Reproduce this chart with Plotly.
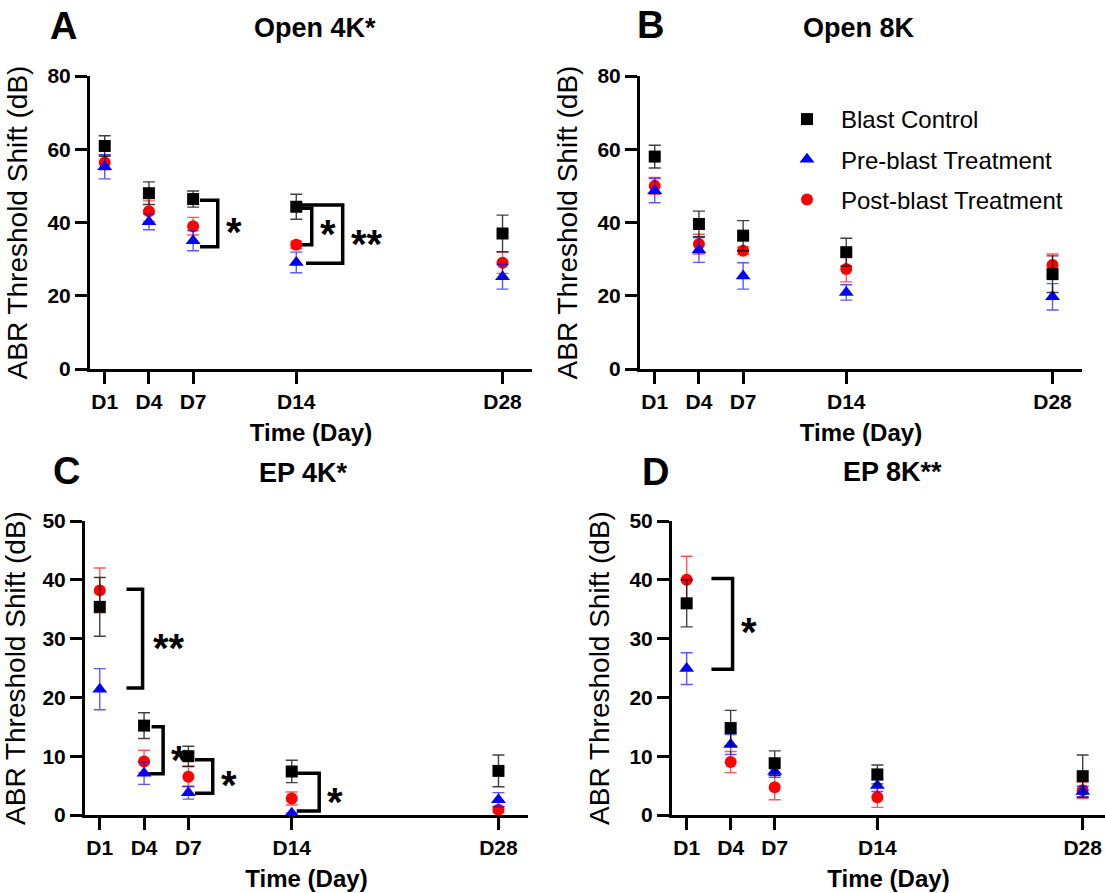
import plotly.graph_objects as go

# ---- data -----------------------------------------------------------------
days = [1, 4, 7, 14, 28]
day_labels = ["D1", "D4", "D7", "D14", "D28"]
series_names = ["Blast Control", "Pre-blast Treatment", "Post-blast Treatment"]

# Open field, 4 kHz
open4k_control = [60.9, 48.0, 46.4, 44.3, 37.0]
open4k_control_sem = [2.8, 3.1, 2.2, 3.4, 5.0]
open4k_pre = [55.2, 40.2, 35.0, 29.1, 25.2]
open4k_pre_sem = [3.3, 2.2, 2.7, 2.8, 3.4]
open4k_post = [56.4, 43.1, 39.0, 33.9, 29.0]
open4k_post_sem = [2.0, 2.8, 2.4, 1.0, 2.9]

# Open field, 8 kHz
open8k_control = [58.0, 39.6, 36.4, 31.9, 25.9]
open8k_control_sem = [3.1, 3.5, 4.1, 3.8, 5.0]
open8k_pre = [48.7, 32.5, 25.4, 20.9, 19.7]
open8k_pre_sem = [3.3, 3.4, 3.6, 2.1, 3.6]
open8k_post = [50.0, 34.1, 32.3, 27.3, 28.4]
open8k_post_sem = [2.3, 2.7, 1.0, 3.5, 3.0]

# Ear plug, 4 kHz
ep4k_control = [35.4, 15.2, 10.0, 7.4, 7.5]
ep4k_control_sem = [5.0, 2.2, 1.7, 1.9, 2.7]
ep4k_pre = [21.4, 7.1, 3.8, 0.3, 2.6]
ep4k_pre_sem = [3.5, 1.9, 1.1, 0.0, 1.2]
ep4k_post = [38.2, 9.1, 6.5, 2.8, 0.9]
ep4k_post_sem = [3.8, 1.9, 1.7, 1.1, 0.5]

# Ear plug, 8 kHz
ep8k_control = [36.0, 14.8, 8.8, 6.9, 6.6]
ep8k_control_sem = [4.0, 3.0, 2.1, 1.6, 3.6]
ep8k_pre = [24.9, 12.0, 7.4, 5.0, 4.0]
ep8k_pre_sem = [2.7, 1.7, 1.0, 1.0, 0.9]
ep8k_post = [40.0, 9.0, 4.7, 3.0, 4.2]
ep8k_post_sem = [4.0, 1.8, 2.1, 1.7, 1.4]

# ---- layout helpers ---------------------------------------------------------
W, H = 1105, 893
FONT = "Liberation Sans, Arial, sans-serif"


def px(x):
    return x / W


def py(y):
    return 1 - y / H


styles = {
    "Blast Control": dict(symbol="square", color="#000000", size=12,
                          err="rgba(0,0,0,0.75)", rank=1),
    "Pre-blast Treatment": dict(symbol="triangle-up", color="#0000FF", size=13,
                                err="rgba(0,0,255,0.65)", rank=2),
    "Post-blast Treatment": dict(symbol="circle", color="#FF0000", size=12,
                                 err="rgba(255,0,0,0.65)", rank=3),
}

# significance brackets: (x_left_top, x_left_bottom, x_vertical, y_top, y_bottom, label, label_x, label_y)
panels = [
    dict(key="A", title="Open 4K*", xd=[px(90), px(532)], yd=[py(369), py(76)],
         xr=[0, 30], yr=[0, 80], dtick=20,
         data={"Blast Control": (open4k_control, open4k_control_sem),
               "Pre-blast Treatment": (open4k_pre, open4k_pre_sem),
               "Post-blast Treatment": (open4k_post, open4k_post_sem)},
         letter_pos=(63, 26), title_pos=(315, 28), legend=False,
         brackets=[(7.47, 7.47, 8.67, 46.1, 33.4, "*", 9.75, 38.85),
                   (14.37, 14.25, 15.05, 43.9, 33.9, "*", 16.14, 38.1),
                   (14.37, 14.66, 17.15, 44.75, 28.85, "**", 18.83, 35.4)]),
    dict(key="B", title="Open 8K", xd=[px(640), px(1082)], yd=[py(369), py(76)],
         xr=[0, 30], yr=[0, 80], dtick=20,
         data={"Blast Control": (open8k_control, open8k_control_sem),
               "Pre-blast Treatment": (open8k_pre, open8k_pre_sem),
               "Post-blast Treatment": (open8k_post, open8k_post_sem)},
         letter_pos=(650, 25), title_pos=(859, 28), legend=True, brackets=[]),
    dict(key="C", title="EP 4K*", xd=[px(85), px(528)], yd=[py(815), py(521)],
         xr=[0, 30], yr=[0, 50], dtick=10,
         data={"Blast Control": (ep4k_control, ep4k_control_sem),
               "Pre-blast Treatment": (ep4k_pre, ep4k_pre_sem),
               "Post-blast Treatment": (ep4k_post, ep4k_post_sem)},
         letter_pos=(66, 471), title_pos=(303, 473), legend=False,
         brackets=[(2.81, 2.81, 3.9, 38.4, 21.6, "**", 5.68, 29.3),
                   (4.51, 4.3, 5.29, 15.0, 7.0, "*", 6.36, 10.2),
                   (7.45, 7.45, 8.65, 9.4, 3.7, "*", 9.75, 5.95),
                   (14.34, 14.34, 15.86, 7.1, 0.7, "*", 16.9, 3.0)]),
    dict(key="D", title="EP 8K**", xd=[px(672), 1.0], yd=[py(815), py(521)],
         xr=[0, 29.52], yr=[0, 50], dtick=10,
         data={"Blast Control": (ep8k_control, ep8k_control_sem),
               "Pre-blast Treatment": (ep8k_pre, ep8k_pre_sem),
               "Post-blast Treatment": (ep8k_post, ep8k_post_sem)},
         letter_pos=(655, 472), title_pos=(892, 472), legend=False,
         brackets=[(2.69, 2.69, 4.13, 40.2, 24.8, "*", 5.22, 32.0)]),
]

fig = go.Figure()
annotations = []
shapes = []
layout_axes = {}

draw_order = ["Post-blast Treatment", "Pre-blast Treatment", "Blast Control"]

for i, p in enumerate(panels, start=1):
    xa = "x" if i == 1 else f"x{i}"
    ya = "y" if i == 1 else f"y{i}"
    xkey = "xaxis" if i == 1 else f"xaxis{i}"
    ykey = "yaxis" if i == 1 else f"yaxis{i}"

    for name in draw_order:
        vals, sem = p["data"][name]
        st = styles[name]
        fig.add_trace(go.Scatter(
            x=days, y=vals, mode="markers", name=name,
            xaxis=xa, yaxis=ya,
            legendgroup=name, showlegend=p["legend"], legendrank=st["rank"],
            marker=dict(symbol=st["symbol"], color=st["color"], size=st["size"]),
            error_y=dict(type="data", array=sem, visible=True,
                         color=st["err"], thickness=1.4, width=6),
            cliponaxis=False,
        ))

    axis_line = dict(showline=True, linecolor="black", linewidth=3,
                     ticks="outside", ticklen=12, tickwidth=3, tickcolor="black",
                     showgrid=False, zeroline=False,
                     tickfont=dict(family=FONT, size=21, color="black", weight="bold"))
    layout_axes[xkey] = dict(
        domain=p["xd"], range=p["xr"], anchor=ya,
        tickmode="array", tickvals=days, ticktext=day_labels,
        title=dict(text="Time (Day)", standoff=12,
                   font=dict(family=FONT, size=24, color="black", weight="bold")),
        automargin=False, **axis_line)
    layout_axes[ykey] = dict(
        domain=p["yd"], range=p["yr"], anchor=xa, dtick=p["dtick"], tick0=0,
        title=dict(text="ABR Threshold Shift (dB)", standoff=12,
                   font=dict(family=FONT, size=28, color="black")),
        automargin=False, **axis_line)

    # panel letter and title
    lx, ly = p["letter_pos"]
    annotations.append(dict(text=p["key"], x=px(lx), y=py(ly), xref="paper", yref="paper",
                            xanchor="center", yanchor="middle", showarrow=False,
                            font=dict(family=FONT, size=38, color="black", weight="bold")))
    tx, ty = p["title_pos"]
    annotations.append(dict(text=p["title"], x=px(tx), y=py(ty), xref="paper", yref="paper",
                            xanchor="center", yanchor="middle", showarrow=False,
                            font=dict(family=FONT, size=27, color="black", weight="bold")))

    # significance brackets and stars
    for (xlt, xlb, xv, yt, yb, label, lxd, lyd) in p["brackets"]:
        shapes.append(dict(type="path", xref=xa, yref=ya, layer="below",
                           path=f"M {xlt},{yt} L {xv},{yt} L {xv},{yb} L {xlb},{yb}",
                           line=dict(color="black", width=3.5)))
        annotations.append(dict(text=label, x=lxd, y=lyd, xref=xa, yref=ya,
                                xanchor="center", yanchor="middle", showarrow=False,
                                yshift=-5,
                                font=dict(family=FONT, size=40, color="black", weight="bold")))

fig.update_layout(
    width=W, height=H, autosize=False,
    margin=dict(l=0, r=0, t=0, b=0),
    paper_bgcolor="white", plot_bgcolor="white",
    annotations=annotations, shapes=shapes,
    legend=dict(x=px(773), y=py(97), xanchor="left", yanchor="top",
                font=dict(family=FONT, size=24, color="black"),
                itemwidth=58, tracegroupgap=6, traceorder="grouped",
                bgcolor="rgba(0,0,0,0)", borderwidth=0),
    **layout_axes,
)

fig.write_html("out.html")
